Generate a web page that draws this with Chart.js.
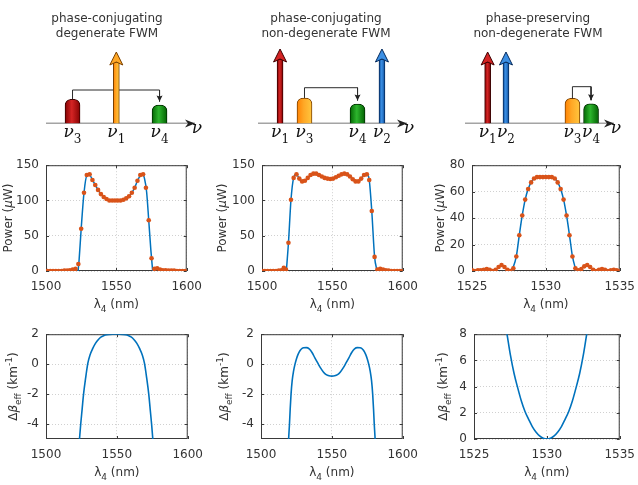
<!DOCTYPE html>
<html>
<head>
<meta charset="utf-8">
<script src="https://cdn.jsdelivr.net/npm/chart.js@4.4.1/dist/chart.umd.min.js"></script>
<style>
  body { margin: 0; background: #fff; }
  #fig { position: relative; width: 638px; height: 485px; overflow: hidden; background: #fff; }
  #fig canvas { position: absolute; }
</style>
</head>
<body>
<div id="fig"></div>
<script>
// ---- top row: FWM schemes (frequency in arbitrary units 0..100, power 0..10) ----
const schemeTitles = [
  ['phase-conjugating', 'degenerate FWM'],
  ['phase-conjugating', 'non-degenerate FWM'],
  ['phase-preserving', 'non-degenerate FWM']
];
const schemeWaves = [['3', '1', '4'], ['1', '3', '4', '2'], ['1', '2', '3', '4']];
const schemeFreq = [[17.8, 47.2, 76.2], [14.8, 31.2, 66.8, 83.2], [15.2, 27.5, 72.1, 84.6]];
const schemePower = [[3.06, 9.05, 2.34], [9.43, 3.23, 2.47, 9.43], [9.05, 9.05, 3.19, 2.5]];
const schemeLink = [4.24, 4.53, 4.66];

// ---- middle row: measured (markers) and simulated (line) idler power, uW ----
const lam1 = [1501,1503,1505,1507,1509,1511,1513,1515,1517,1519,1521,1523,1525,1527,1529,1531,1533,1535,1537,1539,1541,1543,1545,1547,1549,1551,1553,1555,1557,1559,1561,1563,1565,1567,1569,1571,1573,1575,1577,1579,1581,1583,1585,1587,1589,1591,1593,1595,1597,1599];
const pow1 = [0,0,0,0,0,0,0.5,0.5,1,2,3,10,60,111,136,137,129,122,115,109,105,102,100,100,100,100,100,101,103,106,111,118,128,136,137,118,72,18,3,4,2,1,1,0.5,0.5,0.5,0,0,0,0];
const simLam1 = [1522.8,1523.5,1525,1527,1529,1531,1533,1535,1537,1539,1541,1543,1545,1547,1549,1551,1553,1555,1557,1559,1561,1563,1565,1567,1568.5,1570,1571.5,1573,1574.5,1575.8];
const sim1 = [0,15,60,111,135,136,129,122,115,109,105,102,100,100,100,100,100,101,103,106,111,118,128,135,137,131,112,72,30,0];

const lam2 = [1500,1502,1504,1506,1508,1510,1512,1514,1515.5,1517,1518.8,1520.6,1522.5,1524.5,1526.5,1528.5,1530.5,1532.5,1534.5,1536.5,1538.5,1540.5,1542.5,1544.5,1546.5,1548.5,1550.5,1552.5,1554.5,1556.5,1558.5,1560.5,1562.5,1564.5,1566.5,1568.5,1570.5,1572.5,1574.5,1576.2,1578,1580,1582,1584,1586,1588,1590,1592,1594,1596,1598,1600];
const pow2 = [0,0,0,0,0,0,0.5,1,4.5,2,40,101,132,137,131,127,128,132,136,138,138,136,134,132,131,130.5,131,133,135,137,138,137,134,130,127,127,131,136,137,129,85,20,2,3,2,1,0.5,0,0,0,0,0];
const simLam2 = [1517.3,1518.8,1520.6,1522.5,1524.5,1526.5,1528.5,1530.5,1532.5,1534.5,1536.5,1538.5,1540.5,1542.5,1544.5,1546.5,1548.5,1550.5,1552.5,1554.5,1556.5,1558.5,1560.5,1562.5,1564.5,1566.5,1568.5,1570.5,1572.5,1574.5,1576.2,1578,1580,1581.8];
const sim2 = [0,40,101,132,137,131,127,128,132,136,138,138,136,134,132,131,130.5,131,133,135,137,138,137,134,130,127,127,131,136,137,129,85,20,0];

const lam3 = [1525,1525.2,1525.4,1525.6,1525.8,1526,1526.2,1526.4,1526.6,1526.8,1527,1527.2,1527.4,1527.6,1527.8,1528,1528.2,1528.4,1528.6,1528.8,1529,1529.2,1529.4,1529.6,1529.8,1530,1530.2,1530.4,1530.6,1530.8,1531,1531.2,1531.4,1531.6,1531.8,1532,1532.2,1532.4,1532.6,1532.8,1533,1533.2,1533.4,1533.6,1533.8,1534,1534.2,1534.4,1534.6,1534.8,1535];
const pow3 = [0.5,0,0.5,0.5,1,1.5,1,0,1,3,4.5,3,1,0,2,11,27,42,54,62,67,70,71,71,71,71,71,71,70,67,62,54,42,27,11,2,0.5,1.5,3.5,4.5,3,1,0,1,1.5,1,0,0.5,1,0.5,0];
const simLam3 = [1527.7,1528,1528.2,1528.4,1528.6,1528.8,1529,1529.2,1529.4,1529.6,1529.8,1530,1530.2,1530.4,1530.6,1530.8,1531,1531.2,1531.4,1531.6,1531.8,1532.05];
const sim3 = [0,11,27,42,54,62,67,70,71,71,71,71,71,71,70,67,62,54,42,27,11,0];

// ---- bottom row: effective phase mismatch, 1/km ----
const betaLam1 = [1523.3,1524.5,1525.5,1526.5,1528,1529.5,1531,1533,1535,1537,1539,1541,1543,1545,1547,1549.5,1552,1554,1556,1558,1560,1562,1564,1566,1568,1569.5,1571,1572.5,1573.5,1574.5,1575.7];
const beta1 = [-5.4,-4,-3,-2,-0.9,0.05,0.6,1.05,1.4,1.65,1.82,1.92,1.97,1.99,2,2,2,1.99,1.97,1.92,1.82,1.65,1.4,1.05,0.6,0.05,-0.9,-2,-3,-4,-5.4];
const betaLam2 = [1519.3,1519.6,1520.1,1520.6,1521.2,1522,1523,1524,1525,1526,1527,1528,1529,1530,1532,1534,1536,1538,1540,1542,1544,1546,1548,1550,1552,1554,1556,1558,1560,1562,1564,1566,1568,1570,1571,1572,1573,1574,1575,1576,1577,1578,1578.8,1579.4,1579.9,1580.4,1580.7];
const beta2 = [-5.4,-4.8,-4,-3,-2,-1.1,-0.45,0,0.35,0.62,0.82,0.96,1.05,1.09,1.1,1.02,0.78,0.42,0.08,-0.25,-0.52,-0.7,-0.78,-0.8,-0.78,-0.7,-0.52,-0.25,0.08,0.42,0.78,1.02,1.1,1.09,1.05,0.96,0.82,0.62,0.35,0,-0.45,-1.1,-2,-3,-4,-4.8,-5.4];
const betaLam3 = [1527.1,1527.25,1527.5,1527.75,1528,1528.25,1528.5,1528.75,1529,1529.25,1529.5,1529.75,1530,1530.25,1530.5,1530.75,1531,1531.25,1531.5,1531.75,1532,1532.25,1532.5,1532.75,1532.9];
const beta3 = [9,8.1,6.4,5,3.9,2.9,2.1,1.5,0.95,0.54,0.24,0.06,0,0.06,0.24,0.54,0.95,1.5,2.1,2.9,3.9,5,6.4,8.1,9];

// axis ranges and ticks
const lamRange = [[1500, 1600], [1500, 1600], [1525, 1535]];
const lamTicks = [[1500, 1550, 1600], [1500, 1550, 1600], [1525, 1530, 1535]];
const powRange = [[0, 150], [0, 150], [0, 80]];
const powTicks = [[0, 50, 100, 150], [0, 50, 100, 150], [0, 20, 40, 60, 80]];
const betaRange = [[-5, 2], [-5, 2], [0, 8]];
const betaTicks = [[-4, -2, 0, 2], [-4, -2, 0, 2], [0, 2, 4, 6, 8]];

const lambdaTitle = [['λ', ''], ['4', 'sub'], [' (nm)', '']];
const powerTitle = [['Power (', ''], ['μ', 'i'], ['W)', '']];
const betaTitle = [['Δ', ''], ['β', 'i'], ['eff', 'sub'], [' (km', ''], ['-1', 'sup'], [')', '']];

// ---- styles ----
const ink = '#333333';
const sans = "'DejaVu Sans', sans-serif";
const serif = "'DejaVu Serif', serif";
const blue = '#0072BD';
const orange = '#D95319';
const tones = {
  red: ['#7e0000', '#d42424', '#800000', '#3d0000'],
  orange: ['#ff7f00', '#ffa826', '#ffc840', '#7a4000'],
  green: ['#006000', '#2db52d', '#005c00', '#002e00'],
  blue: ['#0c4f9e', '#3b8fe4', '#0c4c98', '#052a5c']
};
const schemeColors = [
  { '3': 'red', '1': 'orange', '4': 'green' },
  { '1': 'red', '3': 'orange', '4': 'green', '2': 'blue' },
  { '1': 'red', '2': 'blue', '3': 'orange', '4': 'green' }
];

const fig = document.getElementById('fig');
function addCanvas(left, top, w, h) {
  const c = document.createElement('canvas');
  c.width = w; c.height = h;
  c.style.left = left + 'px'; c.style.top = top + 'px';
  c.style.width = w + 'px'; c.style.height = h + 'px';
  fig.appendChild(c);
  return c;
}

// text with sub/superscripts and italic pieces, centred on (x, y)
function richText(ctx, parts, x, y, size, family, rot, color) {
  ctx.save();
  ctx.translate(x, y);
  if (rot) ctx.rotate(rot);
  ctx.fillStyle = color;
  ctx.textBaseline = 'alphabetic';
  const small = Math.round(size * 0.72);
  const fontOf = p => (p[1] === 'i' ? 'italic ' : '') + (p[1] === 'sub' || p[1] === 'sup' ? small : size) + 'px ' + family;
  let w = 0;
  parts.forEach(p => { ctx.font = fontOf(p); w += ctx.measureText(p[0]).width; });
  let cx = -w / 2;
  parts.forEach(p => {
    ctx.font = fontOf(p);
    const dy = p[1] === 'sub' ? size * 0.3 : p[1] === 'sup' ? -size * 0.42 : 0;
    ctx.fillText(p[0], cx, size * 0.35 + dy);
    cx += ctx.measureText(p[0]).width;
  });
  ctx.restore();
}

function arrowHead(ctx, x, y, ang, len, half, notch, fill, stroke) {
  ctx.save();
  ctx.translate(x, y);
  ctx.rotate(ang);
  ctx.beginPath();
  ctx.moveTo(0, 0);
  ctx.lineTo(-len, -half);
  ctx.lineTo(-notch, 0);
  ctx.lineTo(-len, half);
  ctx.closePath();
  ctx.fillStyle = fill;
  ctx.fill();
  if (stroke) { ctx.strokeStyle = stroke; ctx.lineWidth = 1; ctx.stroke(); }
  ctx.restore();
}

function shade(c, names, half) {
  const t = tones[names[c.dataIndex]] || tones.red;
  const chart = c.chart;
  if (c.type !== 'data' || !chart.scales.x || !c.raw) return t[1];
  const px = chart.scales.x.getPixelForValue(c.raw.x);
  if (!Number.isFinite(px)) return t[1];
  const g = chart.ctx.createLinearGradient(px - half, 0, px + half, 0);
  g.addColorStop(0, t[0]); g.addColorStop(0.45, t[1]); g.addColorStop(1, t[2]);
  return g;
}

// ---------- scheme diagrams ----------
const schemeBoxes = [
  { canvas: [0, 212], area: [46, 195], title: 107 },
  { canvas: [212, 212], area: [258, 407], title: 326 },
  { canvas: [424, 214], area: [465, 614], title: 538 }
];

schemeBoxes.forEach((b, k) => {
  const waves = schemeWaves[k], f = schemeFreq[k], p = schemePower[k], col = schemeColors[k];
  const pumps = [], seeds = [];
  waves.forEach((w, i) => ((w === '1' || w === '2') ? pumps : seeds).push(i));
  const i3 = waves.indexOf('3'), i4 = waves.indexOf('4');
  const pumpTone = pumps.map(i => col[waves[i]]);
  const seedTone = seeds.map(i => col[waves[i]]);
  const cv = addCanvas(b.canvas[0], 0, b.canvas[1], 148);
  new Chart(cv, {
    type: 'bar',
    data: {
      datasets: [
        { type: 'bar', order: 1, pump: true, tone: pumpTone, grouped: false,
          data: pumps.map(i => ({ x: f[i], y: p[i] })),
          barThickness: 6, borderWidth: 1, borderSkipped: 'bottom',
          backgroundColor: c => shade(c, pumpTone, 3),
          borderColor: pumpTone.map(t => tones[t][3]) },
        { type: 'line', order: 2, head: [6, 3, 5, '#222'],
          data: [{ x: f[i3], y: p[i3] }, { x: f[i3], y: schemeLink[k] }, { x: f[i4], y: schemeLink[k] }, { x: f[i4], y: p[i4] + 0.45 }],
          borderColor: '#2b2b2b', borderWidth: 1, pointRadius: 0, tension: 0 },
        { type: 'bar', order: 3, grouped: false,
          data: seeds.map(i => ({ x: f[i], y: p[i] })),
          barThickness: 15, borderWidth: 1, borderSkipped: 'bottom',
          borderRadius: { topLeft: 6, topRight: 6, bottomLeft: 0, bottomRight: 0 },
          backgroundColor: c => shade(c, seedTone, 8),
          borderColor: seedTone.map(t => tones[t][3]) },
        { type: 'line', order: 4, head: [10, 4, 7, '#222'],
          data: [{ x: 0, y: 0 }, { x: 100, y: 0 }],
          borderColor: '#4a4a4a', borderWidth: 1.6, pointRadius: 0 }
      ]
    },
    options: {
      responsive: false, animation: false, devicePixelRatio: 1,
      layout: { padding: { left: b.area[0] - b.canvas[0], right: b.canvas[0] + b.canvas[1] - b.area[1], top: 44.5, bottom: 24.5 } },
      plugins: { legend: { display: false }, tooltip: { enabled: false } },
      scales: {
        x: { type: 'linear', min: 0, max: 100, offset: false, display: false },
        y: { type: 'linear', min: 0, max: 10, display: false }
      }
    },
    plugins: [{
      id: 'scheme',
      beforeDatasetDraw(chart, args) {
        const ds = chart.data.datasets[args.index];
        if (ds.pump) args.meta.data.forEach(el => { el.tip = el.y; el.y = el.y + 10; });
      },
      afterDatasetDraw(chart, args) {
        const ds = chart.data.datasets[args.index];
        const ctx = chart.ctx, pts = args.meta.data;
        if (ds.pump) pts.forEach((el, i) => {
          el.y = el.tip;
          const t = tones[ds.tone[i]];
          arrowHead(ctx, el.x, el.tip, -Math.PI / 2, 13, 6.5, 10, t[1], t[3]);
        });
        if (ds.head) {
          const a = pts[pts.length - 2], e = pts[pts.length - 1];
          arrowHead(ctx, e.x, e.y, Math.atan2(e.y - a.y, e.x - a.x), ds.head[0], ds.head[1], ds.head[2], ds.head[3]);
        }
      },
      afterDraw(chart) {
        const ctx = chart.ctx, xs = chart.scales.x, bottom = chart.chartArea.bottom;
        const tx = b.title - b.canvas[0];
        richText(ctx, [[schemeTitles[k][0], '']], tx, 18, 12, sans, 0, ink);
        richText(ctx, [[schemeTitles[k][1], '']], tx, 33, 12, sans, 0, ink);
        waves.forEach((w, i) => richText(ctx, [['ν', 'i'], [w, 'sub']], xs.getPixelForValue(f[i]), bottom + 8, 17, serif, 0, '#111'));
        richText(ctx, [['ν', 'i']], xs.getPixelForValue(100) + 2, bottom + 4, 17, serif, 0, '#111');
      }
    }]
  });
});

// ---------- data panels ----------
function framePlugin(xTitle, yTitle, yOff) {
  return {
    id: 'frame',
    beforeDatasetsDraw(chart) {
      const { ctx, chartArea: a, scales } = chart;
      ctx.save();
      ctx.strokeStyle = '#3a3a3a';
      ctx.lineWidth = 1;
      ctx.strokeRect(a.left + 0.5, a.top + 0.5, a.right - a.left - 1, a.bottom - a.top - 1);
      ctx.beginPath();
      scales.x.ticks.forEach(t => {
        const px = Math.round(scales.x.getPixelForValue(t.value)) + 0.5;
        ctx.moveTo(px, a.bottom); ctx.lineTo(px, a.bottom - 3);
        ctx.moveTo(px, a.top); ctx.lineTo(px, a.top + 3);
      });
      scales.y.ticks.forEach(t => {
        const py = Math.round(scales.y.getPixelForValue(t.value)) + 0.5;
        ctx.moveTo(a.left, py); ctx.lineTo(a.left + 3, py);
        ctx.moveTo(a.right, py); ctx.lineTo(a.right - 3, py);
      });
      ctx.stroke();
      ctx.restore();
    },
    afterDraw(chart) {
      const { ctx, chartArea: a } = chart;
      richText(ctx, xTitle, (a.left + a.right) / 2, a.bottom + 33, 12, sans, 0, ink);
      richText(ctx, yTitle, a.left - yOff, (a.top + a.bottom) / 2, 12, sans, -Math.PI / 2, ink);
    }
  };
}

function axis(range, ticks, pad, isX) {
  return {
    type: 'linear', min: range[0], max: range[1], offset: false,
    afterBuildTicks: s => { s.ticks = ticks.map(v => ({ value: v })); },
    afterFit: s => { if (isX) s.height = 46; else s.width = 46; },
    grid: { color: '#d0d0d0', lineWidth: 1, drawTicks: false },
    border: { display: false, dash: [1, 2] },
    ticks: { padding: pad, color: ink, font: { family: sans, size: 12 }, maxRotation: 0, callback: v => String(v) }
  };
}

function panel(area, datasets, xr, xt, yr, yt, yTitle, yOff) {
  const [L, T, R, B] = area;
  const cv = addCanvas(L - 46, T - 14, R - L + 68, B - T + 60);
  new Chart(cv, {
    type: 'line',
    data: { datasets },
    options: {
      responsive: false, animation: false, devicePixelRatio: 1,
      layout: { padding: { top: 14, right: 22, left: 0, bottom: 0 } },
      plugins: { legend: { display: false }, tooltip: { enabled: false } },
      scales: { x: axis(xr, xt, 9, true), y: axis(yr, yt, 7, false) }
    },
    plugins: [framePlugin(lambdaTitle, yTitle, yOff)]
  });
}

const pts = (xs, ys) => xs.map((x, i) => ({ x, y: ys[i] }));

const powerAreas = [[46, 165, 189, 271], [262, 165, 405, 271], [472, 165, 622, 271]];
const betaAreas = [[46, 334, 190, 439], [261, 334, 405, 439], [474, 334, 622, 439]];
const powerOff = [38.5, 40, 32];
const betaOff = [33, 37, 31];

const measured = [pts(lam1, pow1), pts(lam2, pow2), pts(lam3, pow3)];
const simulated = [pts(simLam1, sim1), pts(simLam2, sim2), pts(simLam3, sim3)];
const mismatch = [pts(betaLam1, beta1), pts(betaLam2, beta2), pts(betaLam3, beta3)];

for (let k = 0; k < 3; k++) {
  panel(powerAreas[k], [
    { data: measured[k], showLine: false, pointRadius: 2.3, pointBorderWidth: 0,
      pointBackgroundColor: orange, borderColor: orange },
    { data: simulated[k], borderColor: blue, borderWidth: 1.5, pointRadius: 0,
      cubicInterpolationMode: 'monotone' }
  ], lamRange[k], lamTicks[k], powRange[k], powTicks[k], powerTitle, powerOff[k]);

  panel(betaAreas[k], [
    { data: mismatch[k], borderColor: blue, borderWidth: 1.6, pointRadius: 0,
      cubicInterpolationMode: 'monotone', clip: 0 }
  ], lamRange[k], lamTicks[k], betaRange[k], betaTicks[k], betaTitle, betaOff[k]);
}
</script>
</body>
</html>
